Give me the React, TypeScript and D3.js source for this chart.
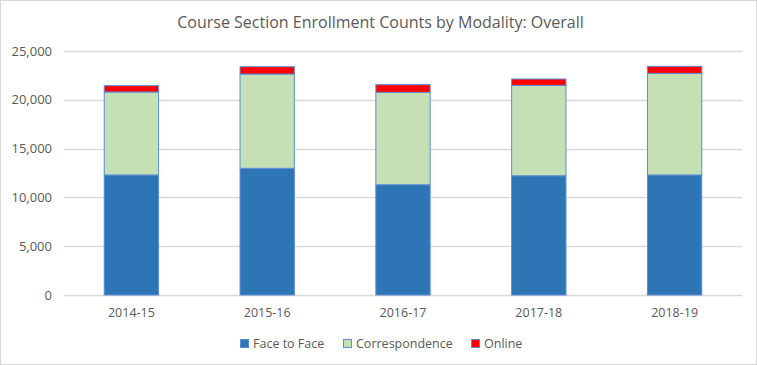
import * as d3 from "d3";

const years = ["2014-15", "2015-16", "2016-17", "2017-18", "2018-19"];
const faceToFace = [12300, 12980, 11300, 12220, 12300];
const correspondence = [8500, 9660, 9470, 9260, 10410];
const online = [650, 750, 780, 650, 720];
const seriesNames = ["Face to Face", "Correspondence", "Online"];
const seriesColors = ["#2E75B6", "#C5E0B4", "#FF0000"];
const yTicks = [0, 5000, 10000, 15000, 20000, 25000];

const width = 757;
const height = 365;
const marginLeft = 63.5;
const marginRight = 14.5;
const marginTop = 51;
const marginBottom = 70;

export default function App() {
  const rows = years.map((yr, i) => ({
    year: yr,
    "Face to Face": faceToFace[i],
    Correspondence: correspondence[i],
    Online: online[i],
  }));
  const stacked = d3.stack<any>().keys(seriesNames)(rows);

  const x = d3
    .scaleBand()
    .domain(years)
    .range([marginLeft, width - marginRight])
    .paddingInner(0.6)
    .paddingOuter(0.3);
  const y = d3
    .scaleLinear()
    .domain([0, 25000])
    .range([height - marginBottom, marginTop]);

  const fmt = d3.format(",");
  const font = "'Open Sans', 'Liberation Sans', sans-serif";

  // legend layout
  const legendX = [240, 343, 471];

  return (
    <svg
      width={width}
      height={height}
      style={{ position: "absolute", left: 0, top: 0, background: "#fff" }}
      fontFamily={font}
    >
      <rect x={0.5} y={0.5} width={width - 1} height={height - 1} fill="#fff" stroke="#d9d9d9" />
      <text x={width / 2 + 2} y={28} textAnchor="middle" fontSize={16} fill="#595959">
        Course Section Enrollment Counts by Modality: Overall
      </text>

      {yTicks.map((t) => (
        <g key={t}>
          <line
            x1={marginLeft}
            x2={width - marginRight}
            y1={Math.round(y(t)) + 0.5}
            y2={Math.round(y(t)) + 0.5}
            stroke="#d9d9d9"
            strokeWidth={1.3}
          />
          <text x={52} y={y(t) + 4.5} textAnchor="end" fontSize={13} fill="#595959">
            {fmt(t)}
          </text>
        </g>
      ))}

      {stacked.map((s, si) => (
        <g key={s.key} fill={seriesColors[si]}>
          {s.map((d, i) => (
            <rect
              key={i}
              x={x(years[i])!}
              y={y(d[1])}
              width={x.bandwidth()}
              height={y(d[0]) - y(d[1])}
              stroke="#5B8ED6"
              strokeWidth={1}
            />
          ))}
        </g>
      ))}

      {years.map((yr) => (
        <text
          key={yr}
          x={x(yr)! + x.bandwidth() / 2}
          y={317}
          textAnchor="middle"
          fontSize={12.5}
          fill="#595959"
        >
          {yr}
        </text>
      ))}

      {seriesNames.map((n, i) => (
        <g key={n}>
          <rect
            x={legendX[i] + 0.5}
            y={339.5}
            width={8}
            height={8}
            fill={seriesColors[i]}
            stroke="#5B8ED6"
            strokeWidth={1}
          />
          <text x={legendX[i] + 13} y={348} fontSize={12.5} fill="#595959">
            {n}
          </text>
        </g>
      ))}
    </svg>
  );
}
